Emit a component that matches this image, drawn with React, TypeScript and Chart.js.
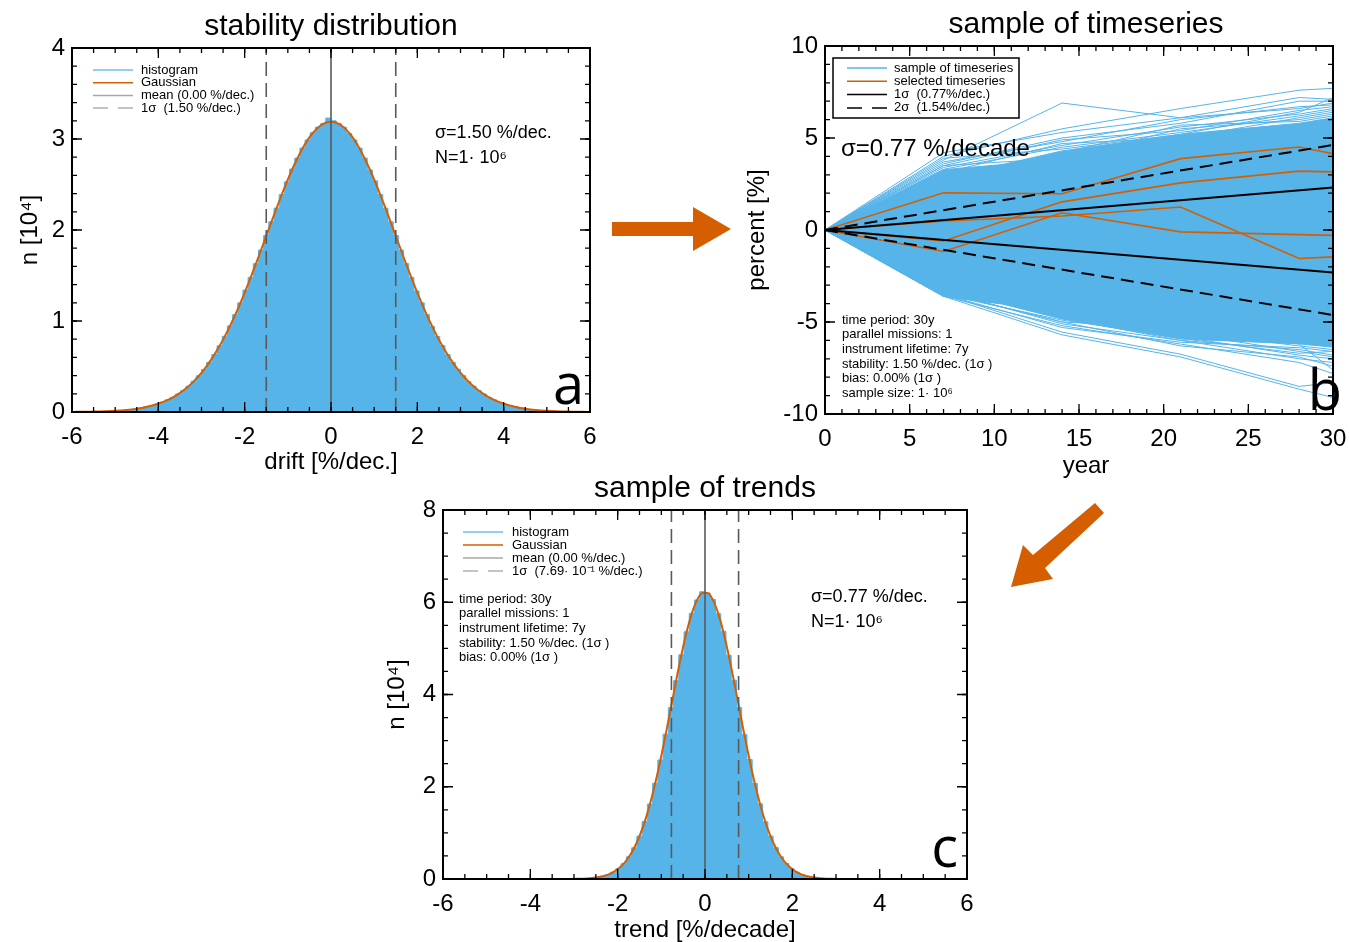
import React, { useEffect, useRef } from 'react';
import { Chart, registerables } from 'chart.js';

Chart.register(...registerables);

const FONT = '"Liberation Sans", Arial, Helvetica, sans-serif';
const LETTER_FONT = '"Open Sans", "Liberation Sans", sans-serif';
const BLUE = '#56B4E9';
const ORANGE = '#D55E00';

Chart.defaults.font.family = FONT;
Chart.defaults.color = '#000';

// ---------- histogram binning (100 bins from -6 to 6) ----------
const BIN_START = -6;
const BIN_WIDTH = 0.12;

// panel a: stability distribution, counts in 10^4
const histA = [
  0.001, 0.002, 0.002, 0.003, 0.004, 0.006, 0.007, 0.010, 0.013, 0.017,
  0.022, 0.028, 0.036, 0.045, 0.057, 0.071, 0.088, 0.108, 0.134, 0.162,
  0.198, 0.237, 0.283, 0.338, 0.398, 0.467, 0.546, 0.632, 0.728, 0.832,
  0.946, 1.07, 1.20, 1.34, 1.48, 1.63, 1.78, 1.94, 2.09, 2.24,
  2.39, 2.53, 2.67, 2.79, 2.90, 2.99, 3.07, 3.13, 3.17, 3.23,
  3.20, 3.17, 3.13, 3.06, 2.99, 2.90, 2.79, 2.66, 2.54, 2.39,
  2.24, 2.09, 1.94, 1.78, 1.63, 1.48, 1.33, 1.20, 1.07, 0.94,
  0.83, 0.73, 0.63, 0.545, 0.47, 0.40, 0.335, 0.285, 0.235, 0.197,
  0.162, 0.133, 0.108, 0.088, 0.071, 0.057, 0.045, 0.036, 0.028, 0.022,
  0.017, 0.013, 0.010, 0.008, 0.006, 0.004, 0.003, 0.002, 0.002, 0.001,
];
const gaussA = [
  0.0013, 0.0017, 0.0023, 0.0031, 0.0042, 0.0056, 0.0075, 0.010, 0.013, 0.017,
  0.022, 0.028, 0.036, 0.045, 0.057, 0.071, 0.088, 0.108, 0.133, 0.162,
  0.197, 0.237, 0.283, 0.337, 0.398, 0.467, 0.545, 0.631, 0.727, 0.831,
  0.945, 1.067, 1.197, 1.335, 1.479, 1.628, 1.780, 1.935, 2.090, 2.242,
  2.390, 2.532, 2.665, 2.786, 2.896, 2.990, 3.067, 3.127, 3.167, 3.187,
  3.187, 3.167, 3.127, 3.067, 2.990, 2.896, 2.786, 2.665, 2.532, 2.390,
  2.242, 2.090, 1.935, 1.780, 1.628, 1.479, 1.335, 1.197, 1.067, 0.945,
  0.831, 0.727, 0.631, 0.545, 0.467, 0.398, 0.337, 0.283, 0.237, 0.197,
  0.162, 0.133, 0.108, 0.088, 0.071, 0.057, 0.045, 0.036, 0.028, 0.022,
  0.017, 0.013, 0.010, 0.0075, 0.0056, 0.0042, 0.0031, 0.0023, 0.0017, 0.0013,
];

// panel c: sample of trends, counts in 10^4
const histC = [
  0, 0, 0, 0, 0, 0, 0, 0, 0, 0,
  0, 0, 0, 0, 0, 0, 0, 0, 0, 0,
  0, 0, 0.001, 0.001, 0.002, 0.004, 0.008, 0.013, 0.022, 0.038,
  0.061, 0.096, 0.149, 0.227, 0.333, 0.482, 0.676, 0.93, 1.245, 1.625,
  2.075, 2.58, 3.14, 3.715, 4.30, 4.86, 5.36, 5.76, 6.05, 6.23,
  6.20, 6.06, 5.75, 5.37, 4.85, 4.31, 3.72, 3.13, 2.59, 2.07,
  1.63, 1.24, 0.93, 0.68, 0.48, 0.335, 0.225, 0.15, 0.097, 0.06,
  0.037, 0.022, 0.013, 0.008, 0.004, 0.002, 0.001, 0.001, 0, 0,
  0, 0, 0, 0, 0, 0, 0, 0, 0, 0,
  0, 0, 0, 0, 0, 0, 0, 0, 0, 0,
];
const gaussC = [
  0, 0, 0, 0, 0, 0, 0, 0, 0, 0,
  0, 0, 0, 0, 0, 0, 0, 0, 0, 0,
  0.0001, 0.0003, 0.0006, 0.0012, 0.0023, 0.0042, 0.0075, 0.013, 0.022, 0.037,
  0.061, 0.096, 0.149, 0.226, 0.334, 0.481, 0.677, 0.929, 1.244, 1.626,
  2.074, 2.581, 3.136, 3.718, 4.304, 4.861, 5.358, 5.764, 6.052, 6.201,
  6.201, 6.052, 5.764, 5.358, 4.861, 4.304, 3.718, 3.136, 2.581, 2.074,
  1.626, 1.244, 0.929, 0.677, 0.481, 0.334, 0.226, 0.149, 0.096, 0.061,
  0.037, 0.022, 0.013, 0.0075, 0.0042, 0.0023, 0.0012, 0.0006, 0.0003, 0.0001,
  0, 0, 0, 0, 0, 0, 0, 0, 0, 0,
  0, 0, 0, 0, 0, 0, 0, 0, 0, 0,
];

const meanA = 0;
const sigmaA = 1.5;
const meanC = 0;
const sigmaC = 0.769;

// ---------- axis ticks ----------
const xTicksHist = [-6, -4, -2, 0, 2, 4, 6];
const yTicksA = [0, 1, 2, 3, 4];
const yTicksC = [0, 2, 4, 6, 8];
const xTicksB = [0, 5, 10, 15, 20, 25, 30];
const yTicksB = [-10, -5, 0, 5, 10];

// ---------- panel b: time series ----------
const years = [0, 7, 14, 21, 28, 30];
const envelopeYears = [0, 7, 10.5, 14, 21, 28, 30];
const envelopeUpper = [0, 3.28, 3.56, 4.3, 5.2, 5.8, 6.1];
const envelopeLower = [0, -3.61, -4.03, -4.84, -5.92, -6.19, -6.37];

const sampleSeries: number[][] = [
  [0, 4.0, 5.5, 6.6, 7.6, 7.7],
  [0, 3.8, 6.9, 6.1, 6.6, 6.9],
  [0, 4.2, 5.3, 6.1, 7.2, 7.1],
  [0, 3.6, 5.0, 5.8, 7.0, 7.0],
  [0, 3.7, 4.8, 6.0, 6.7, 6.8],
  [0, 3.5, 4.9, 5.4, 6.5, 6.7],
  [0, 3.4, 4.6, 5.6, 6.3, 6.6],
  [0, 3.3, 4.5, 5.3, 6.2, 6.5],
  [0, 3.5, 3.9, 5.5, 6.0, 6.3],
  [0, 3.1, 4.7, 5.0, 6.1, 6.4],
  [0, 3.9, 4.4, 5.2, 6.4, 7.2],
  [0, 2.9, 4.2, 5.7, 5.9, 6.2],
  [0, -3.6, -5.7, -6.9, -8.65, -9.1],
  [0, -3.5, -5.55, -6.75, -8.5, -8.3],
  [0, -3.6, -5.2, -6.2, -7.2, -7.8],
  [0, -3.4, -5.0, -6.3, -6.9, -7.4],
  [0, -3.5, -4.9, -5.8, -6.8, -7.0],
  [0, -3.3, -5.1, -6.0, -6.5, -6.8],
  [0, -3.5, -5.3, -6.1, -6.4, -6.6],
  [0, -3.2, -4.6, -5.6, -6.6, -6.9],
  [0, -3.0, -4.8, -6.0, -7.0, -7.2],
  [0, -3.6, -4.4, -5.5, -6.3, -6.5],
  [0, -3.4, -5.0, -5.3, -6.2, -7.6],
  [0, -3.1, -4.7, -5.9, -6.7, -6.6],
];

const selectedSeries: number[][] = [
  [0, 2.02, 1.97, 3.88, 4.51, 4.15],
  [0, -0.6, 1.53, 2.56, 3.2, 3.16],
  [0, -1.17, 0.94, -0.1, -0.25, -0.29],
  [0, 0.49, 0.76, 1.25, -1.55, -1.46],
];

const trendYears = [0, 30];
const sigma1Up = [0, 2.31];
const sigma1Down = [0, -2.31];
const sigma2Up = [0, 4.62];
const sigma2Down = [0, -4.62];

// ---------- layout ----------
type Panel = { L: number; T: number; R: number; B: number; padL: number; padT: number; padR: number; padB: number };
const PA: Panel = { L: 72, T: 48, R: 590, B: 412, padL: 72, padT: 48, padR: 20, padB: 75 };
const PB: Panel = { L: 825, T: 46, R: 1333, B: 414, padL: 95, padT: 46, padR: 30, padB: 70 };
const PC: Panel = { L: 443, T: 510, R: 967, B: 879, padL: 80, padT: 50, padR: 20, padB: 63 };

type TextItem = { t: string; x: number; y: number; size: number; family?: string; align?: CanvasTextAlign; baseline?: CanvasTextBaseline };
type LegendItem = { label: string; color: string; width: number; dash?: number[] };
type Decor = {
  panel: Panel;
  title: string;
  titleDx: number;
  xTitle: string;
  xTitleY: number;
  yTitle: string;
  yTitleX: number;
  xMinorStep: number;
  yMinorStep: number;
  xMajor: number[];
  yMajor: number[];
  texts: TextItem[];
  legend: { x0: number; x1: number; tx: number; y0: number; dy: number; items: LegendItem[]; box?: [number, number, number, number] };
};

function decorPlugin(d: Decor) {
  return {
    id: 'decor',
    afterDraw(chart: any) {
      const ctx: CanvasRenderingContext2D = chart.ctx;
      const a = chart.chartArea;
      const xs = chart.scales.x;
      const ys = chart.scales.y;
      const P = d.panel;
      const X = (px: number) => a.left + (px - P.L);
      const Y = (py: number) => a.top + (py - P.T);
      ctx.save();
      ctx.strokeStyle = '#000';
      ctx.lineWidth = 1.3;
      ctx.setLineDash([]);
      const drawX = (v: number, len: number) => {
        const px = xs.getPixelForValue(v);
        ctx.beginPath();
        ctx.moveTo(px, a.bottom);
        ctx.lineTo(px, a.bottom - len);
        ctx.moveTo(px, a.top);
        ctx.lineTo(px, a.top + len);
        ctx.stroke();
      };
      const drawY = (v: number, len: number) => {
        const py = ys.getPixelForValue(v);
        ctx.beginPath();
        ctx.moveTo(a.left, py);
        ctx.lineTo(a.left + len, py);
        ctx.moveTo(a.right, py);
        ctx.lineTo(a.right - len, py);
        ctx.stroke();
      };
      const nx = Math.round((xs.max - xs.min) / d.xMinorStep);
      for (let i = 0; i <= nx; i++) drawX(xs.min + i * d.xMinorStep, 5);
      const ny = Math.round((ys.max - ys.min) / d.yMinorStep);
      for (let i = 0; i <= ny; i++) drawY(ys.min + i * d.yMinorStep, 5);
      d.xMajor.forEach((v) => drawX(v, 10));
      d.yMajor.forEach((v) => drawY(v, 10));
      ctx.lineWidth = 2;
      ctx.strokeRect(a.left, a.top, a.right - a.left, a.bottom - a.top);

      ctx.fillStyle = '#000';
      ctx.textAlign = 'center';
      ctx.textBaseline = 'alphabetic';
      ctx.font = `30px ${FONT}`;
      ctx.fillText(d.title, (a.left + a.right) / 2 + d.titleDx, a.top - 13);
      ctx.font = `24px ${FONT}`;
      ctx.textBaseline = 'middle';
      ctx.fillText(d.xTitle, (a.left + a.right) / 2 + d.titleDx, Y(d.xTitleY));
      ctx.save();
      ctx.translate(X(d.yTitleX), (a.top + a.bottom) / 2);
      ctx.rotate(-Math.PI / 2);
      ctx.fillText(d.yTitle, 0, 0);
      ctx.restore();

      // legend
      const lg = d.legend;
      if (lg.box) {
        const [bx0, by0, bx1, by1] = lg.box;
        ctx.fillStyle = '#fff';
        ctx.fillRect(X(bx0), Y(by0), bx1 - bx0, by1 - by0);
        ctx.strokeStyle = '#000';
        ctx.lineWidth = 1.5;
        ctx.strokeRect(X(bx0), Y(by0), bx1 - bx0, by1 - by0);
      }
      lg.items.forEach((it, i) => {
        const y = Y(lg.y0 + i * lg.dy);
        ctx.strokeStyle = it.color;
        ctx.lineWidth = it.width;
        ctx.setLineDash(it.dash || []);
        ctx.beginPath();
        ctx.moveTo(X(lg.x0), y);
        ctx.lineTo(X(lg.x1), y);
        ctx.stroke();
        ctx.setLineDash([]);
        ctx.fillStyle = '#000';
        ctx.font = `13px ${FONT}`;
        ctx.textAlign = 'left';
        ctx.textBaseline = 'middle';
        ctx.fillText(it.label, X(lg.tx), y);
      });

      d.texts.forEach((t) => {
        ctx.fillStyle = '#000';
        ctx.font = `${t.size}px ${t.family || FONT}`;
        ctx.textAlign = t.align || 'left';
        ctx.textBaseline = t.baseline || 'middle';
        ctx.fillText(t.t, X(t.x), Y(t.y));
      });
      ctx.restore();
    },
  };
}

function linScale(min: number, max: number, ticks: number[], fit: 'w' | 'h', size: number, pad: number) {
  return {
    type: 'linear',
    min,
    max,
    afterBuildTicks: (s: any) => {
      s.ticks = ticks.map((v) => ({ value: v }));
    },
    afterFit: (s: any) => {
      if (fit === 'w') s.width = size;
      else s.height = size;
    },
    grid: { display: false, drawTicks: false },
    border: { display: false },
    ticks: {
      autoSkip: false,
      maxRotation: 0,
      minRotation: 0,
      padding: pad,
      color: '#000',
      font: { size: 24, family: FONT },
      callback: (v: any) => String(v),
    },
  };
}

const pts = (xs: number[], ys: number[]) => xs.map((x, i) => ({ x, y: ys[i] }));
const binCenters = (n: number) => Array.from({ length: n }, (_, i) => BIN_START + BIN_WIDTH * (i + 0.5));

function baseOptions(p: Panel, xMin: number, xMax: number, xTicks: number[], yMin: number, yMax: number, yTicks: number[]) {
  return {
    animation: false,
    responsive: false,
    events: [],
    layout: { padding: { left: 0, top: p.padT, right: p.padR, bottom: 0 } },
    plugins: { legend: { display: false }, tooltip: { enabled: false }, title: { display: false } },
    scales: {
      x: linScale(xMin, xMax, xTicks, 'h', p.padB, 11),
      y: linScale(yMin, yMax, yTicks, 'w', p.padL, 7),
    },
  };
}

function vline(x: number, y0: number, y1: number, color: string, dash: number[] = []) {
  return {
    data: [{ x, y: y0 }, { x, y: y1 }],
    borderColor: color,
    borderWidth: 1.6,
    borderDash: dash,
    pointRadius: 0,
    fill: false,
  };
}

function histConfig(p: Panel, hist: number[], gauss: number[], mean: number, sigma: number, yMax: number, yTicks: number[], decor: Decor): any {
  const centers = binCenters(hist.length);
  return {
    type: 'line',
    data: {
      datasets: [
        vline(mean, 0, yMax, '#5a5a5a'),
        vline(mean - sigma, 0, yMax, '#5a5a5a', [14, 7]),
        vline(mean + sigma, 0, yMax, '#5a5a5a', [14, 7]),
        {
          data: pts(centers, gauss),
          borderColor: ORANGE,
          borderWidth: 2,
          pointRadius: 0,
          cubicInterpolationMode: 'monotone',
          fill: false,
        },
        {
          data: pts(centers, hist),
          borderColor: BLUE,
          backgroundColor: BLUE,
          borderWidth: 1,
          pointRadius: 0,
          stepped: 'middle',
          fill: 'origin',
        },
      ],
    },
    options: baseOptions(p, -6, 6, xTicksHist, 0, yMax, yTicks),
    plugins: [decorPlugin(decor)],
  };
}

const decorA: Decor = {
  panel: PA,
  title: 'stability distribution',
  titleDx: 0,
  xTitle: 'drift [%/dec.]',
  xTitleY: 462,
  yTitle: 'n [10\u2074]',
  yTitleX: 30,
  xMinorStep: 0.5,
  yMinorStep: 0.2,
  xMajor: xTicksHist,
  yMajor: yTicksA,
  legend: {
    x0: 93, x1: 133, tx: 141, y0: 70, dy: 12.7,
    items: [
      { label: 'histogram', color: '#6cc0ef', width: 1.5 },
      { label: 'Gaussian', color: ORANGE, width: 1.5 },
      { label: 'mean (0.00 %/dec.)', color: '#a8a8a8', width: 1.5 },
      { label: '1\u03c3  (1.50 %/dec.)', color: '#b0b0b0', width: 1.5, dash: [15, 10] },
    ],
  },
  texts: [
    { t: '\u03c3=1.50 %/dec.', x: 435, y: 133, size: 18 },
    { t: 'N=1\u00b7 10\u2076', x: 435, y: 158, size: 18 },
    { t: 'a', x: 584, y: 404, size: 56, family: LETTER_FONT, align: 'right', baseline: 'alphabetic' },
  ],
};

const decorC: Decor = {
  panel: PC,
  title: 'sample of trends',
  titleDx: 0,
  xTitle: 'trend [%/decade]',
  xTitleY: 930,
  yTitle: 'n [10\u2074]',
  yTitleX: 397,
  xMinorStep: 0.5,
  yMinorStep: 0.5,
  xMajor: xTicksHist,
  yMajor: yTicksC,
  legend: {
    x0: 463, x1: 503, tx: 512, y0: 532, dy: 13,
    items: [
      { label: 'histogram', color: '#6cc0ef', width: 1.5 },
      { label: 'Gaussian', color: ORANGE, width: 1.5 },
      { label: 'mean (0.00 %/dec.)', color: '#a8a8a8', width: 1.5 },
      { label: '1\u03c3  (7.69\u00b7 10\u207b\u00b9 %/dec.)', color: '#b0b0b0', width: 1.5, dash: [15, 10] },
    ],
  },
  texts: [
    { t: 'time period: 30y', x: 459, y: 599, size: 13 },
    { t: 'parallel missions: 1', x: 459, y: 613.5, size: 13 },
    { t: 'instrument lifetime: 7y', x: 459, y: 628, size: 13 },
    { t: 'stability: 1.50 %/dec. (1\u03c3 )', x: 459, y: 643, size: 13 },
    { t: 'bias: 0.00% (1\u03c3 )', x: 459, y: 657.5, size: 13 },
    { t: '\u03c3=0.77 %/dec.', x: 811, y: 597, size: 18 },
    { t: 'N=1\u00b7 10\u2076', x: 811, y: 622, size: 18 },
    { t: 'c', x: 958, y: 867, size: 56, family: LETTER_FONT, align: 'right', baseline: 'alphabetic' },
  ],
};

const decorB: Decor = {
  panel: PB,
  title: 'sample of timeseries',
  titleDx: 7,
  xTitle: 'year',
  xTitleY: 466,
  yTitle: 'percent [%]',
  yTitleX: 757,
  xMinorStep: 1,
  yMinorStep: 1,
  xMajor: xTicksB,
  yMajor: yTicksB,
  legend: {
    x0: 847, x1: 887, tx: 894, y0: 68, dy: 13.3,
    box: [833, 58, 1019, 118],
    items: [
      { label: 'sample of timeseries', color: BLUE, width: 1.5 },
      { label: 'selected timeseries', color: ORANGE, width: 1.5 },
      { label: '1\u03c3  (0.77%/dec.)', color: '#000', width: 1.5 },
      { label: '2\u03c3  (1.54%/dec.)', color: '#000', width: 1.5, dash: [15, 10] },
    ],
  },
  texts: [
    { t: '\u03c3=0.77 %/decade', x: 841, y: 149, size: 24 },
    { t: 'time period: 30y', x: 842, y: 320, size: 13 },
    { t: 'parallel missions: 1', x: 842, y: 334.5, size: 13 },
    { t: 'instrument lifetime: 7y', x: 842, y: 349, size: 13 },
    { t: 'stability: 1.50 %/dec. (1\u03c3 )', x: 842, y: 364, size: 13 },
    { t: 'bias: 0.00% (1\u03c3 )', x: 842, y: 378.5, size: 13 },
    { t: 'sample size: 1\u00b7 10\u2076', x: 842, y: 393, size: 13 },
    { t: 'b', x: 1342, y: 410, size: 56, family: LETTER_FONT, align: 'right', baseline: 'alphabetic' },
  ],
};

function seriesConfig(): any {
  const line = (xs: number[], ys: number[], color: string, width: number, dash: number[] = []) => ({
    data: pts(xs, ys),
    borderColor: color,
    borderWidth: width,
    borderDash: dash,
    pointRadius: 0,
    fill: false,
    tension: 0,
  });
  const datasets: any[] = [
    line(trendYears, sigma1Up, '#000', 2),
    line(trendYears, sigma1Down, '#000', 2),
    line(trendYears, sigma2Up, '#000', 2, [13, 7]),
    line(trendYears, sigma2Down, '#000', 2, [13, 7]),
    ...selectedSeries.map((s) => line(years, s, ORANGE, 1.6)),
    ...sampleSeries.map((s) => line(years, s, BLUE, 1)),
    {
      data: pts(envelopeYears, envelopeUpper),
      borderColor: BLUE,
      backgroundColor: BLUE,
      borderWidth: 1,
      pointRadius: 0,
      fill: '+1',
    },
    {
      data: pts(envelopeYears, envelopeLower),
      borderColor: BLUE,
      borderWidth: 1,
      pointRadius: 0,
      fill: false,
    },
  ];
  return {
    type: 'line',
    data: { datasets },
    options: baseOptions(PB, 0, 30, xTicksB, -10, 10, yTicksB),
    plugins: [decorPlugin(decorB)],
  };
}

function ChartPanel({ panel, make }: { panel: Panel; make: () => any }) {
  const ref = useRef<HTMLCanvasElement>(null);
  const w = panel.R - panel.L + panel.padL + panel.padR;
  const h = panel.B - panel.T + panel.padT + panel.padB;
  useEffect(() => {
    if (!ref.current) return;
    const chart = new Chart(ref.current, make());
    return () => chart.destroy();
  }, []);
  return (
    <div style={{ position: 'absolute', left: panel.L - panel.padL, top: panel.T - panel.padT, width: w, height: h }}>
      <canvas ref={ref} width={w} height={h} style={{ width: w, height: h, display: 'block' }} />
    </div>
  );
}

const arrowRight = [[612, 222], [693, 222], [693, 207], [731, 229], [693, 251], [693, 236], [612, 236]];
const arrowDown = [[1095, 503], [1104, 513], [1045, 568], [1053, 579], [1011, 587], [1023, 545], [1033, 555]];

export default function App() {
  return (
    <div style={{ position: 'absolute', left: 0, top: 0, width: 1349, height: 942, background: '#fff', overflow: 'hidden' }}>
      <ChartPanel panel={PA} make={() => histConfig(PA, histA, gaussA, meanA, sigmaA, 4, yTicksA, decorA)} />
      <ChartPanel panel={PB} make={seriesConfig} />
      <ChartPanel panel={PC} make={() => histConfig(PC, histC, gaussC, meanC, sigmaC, 8, yTicksC, decorC)} />
      <svg width={1349} height={942} style={{ position: 'absolute', left: 0, top: 0, pointerEvents: 'none' }}>
        <polygon points={arrowRight.map((p) => p.join(',')).join(' ')} fill={ORANGE} />
        <polygon points={arrowDown.map((p) => p.join(',')).join(' ')} fill={ORANGE} />
      </svg>
    </div>
  );
}
